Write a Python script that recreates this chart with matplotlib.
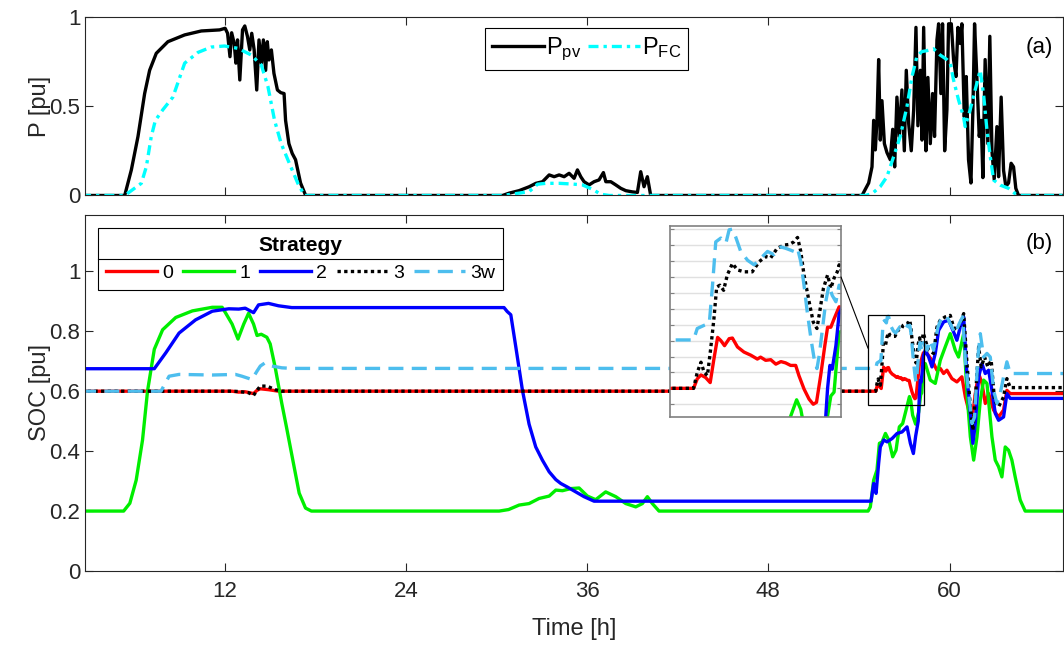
import matplotlib
matplotlib.use("Agg")
import matplotlib.pyplot as plt
from matplotlib.patches import Rectangle, ConnectionPatch
from matplotlib.lines import Line2D

plt.rcParams['font.family'] = ['Liberation Sans', 'DejaVu Sans']
plt.rcParams['mathtext.fontset'] = 'custom'
plt.rcParams['mathtext.rm'] = 'Liberation Sans'

# ---- data: (hour, value) ----
p_pv = [(2.5, 0), (5.39, 0), (5.83, 0.143), (6.27, 0.33), (6.71, 0.57), (7.04, 0.70), (7.48, 0.795),
        (8.25, 0.86), (9.36, 0.898), (10.46, 0.92), (11.67, 0.926), (12.04, 0.935), (12.2, 0.907),
        (12.36, 0.776), (12.47, 0.91), (12.64, 0.85), (12.75, 0.74), (12.86, 0.87), (13.01, 0.646),
        (13.19, 0.926), (13.34, 0.948), (13.52, 0.888), (13.67, 0.814), (13.8, 0.907), (13.96, 0.814),
        (14.13, 0.59), (14.28, 0.87), (14.44, 0.74), (14.57, 0.87), (14.72, 0.70), (14.83, 0.86),
        (14.94, 0.758), (15.1, 0.814), (15.27, 0.683), (15.5, 0.59), (15.72, 0.575), (15.94, 0.57),
        (16.04, 0.42), (16.26, 0.29), (16.48, 0.235), (16.7, 0.2), (17.03, 0.07), (17.37, 0),
        (30.4, 0), (30.84, 0.013), (31.5, 0.027), (32.17, 0.049), (32.61, 0.068), (33.05, 0.077),
        (33.49, 0.115), (33.82, 0.105), (34.15, 0.115), (34.48, 0.105), (34.81, 0.124), (35.14, 0.096),
        (35.36, 0.143), (35.58, 0.105), (35.8, 0.077), (36.13, 0.059), (36.46, 0.077), (36.79, 0.087),
        (37.08, 0.128), (37.24, 0.077), (37.57, 0.077), (37.9, 0.059), (38.23, 0.04), (38.56, 0.027),
        (39.0, 0.02), (39.33, 0.017), (39.55, 0.133), (39.77, 0.049), (39.99, 0.105), (40.21, 0),
        (54.2, 0), (54.64, 0.07), (54.86, 0.16), (54.97, 0.42), (55.08, 0.255), (55.19, 0.42),
        (55.3, 0.76), (55.41, 0.31), (55.52, 0.53), (55.68, 0.29), (55.85, 0.24), (56.07, 0.20),
        (56.23, 0.37), (56.36, 0.16), (56.51, 0.55), (56.67, 0.33), (56.84, 0.59), (57.0, 0.25),
        (57.13, 0.70), (57.29, 0.40), (57.46, 0.25), (57.62, 0.48), (57.77, 0.94), (57.9, 0.39),
        (58.06, 0.70), (58.17, 0.31), (58.28, 0.94), (58.43, 0.25), (58.56, 0.66), (58.72, 0.29),
        (58.87, 0.57), (59.0, 0.33), (59.16, 0.87), (59.27, 0.96), (59.42, 0.57), (59.53, 0.96),
        (59.67, 0.25), (59.82, 0.48), (59.93, 0.96), (60.11, 0.96), (60.26, 0.76), (60.42, 0.665),
        (60.55, 0.94), (60.7, 0.85), (60.81, 0.96), (60.97, 0.44), (61.1, 0.665), (61.25, 0.20),
        (61.41, 0.07), (61.54, 0.48), (61.65, 0.96), (61.8, 0.665), (61.96, 0.33), (62.09, 0.42),
        (62.2, 0.10), (62.35, 0.76), (62.53, 0.29), (62.66, 0.89), (62.8, 0.25), (62.95, 0.09),
        (63.13, 0.385), (63.24, 0.105), (63.41, 0.55), (63.57, 0.14), (63.72, 0.05), (63.9, 0.07),
        (64.07, 0.18), (64.23, 0.16), (64.38, 0.04), (64.56, 0), (68, 0)]

p_fc = [(2.5, 0), (5.39, 0), (6.49, 0.068), (6.82, 0.16), (7.15, 0.33), (7.42, 0.42), (7.92, 0.48),
        (8.58, 0.55), (9.36, 0.74), (10.24, 0.80), (11.12, 0.83), (12.0, 0.836), (12.88, 0.823),
        (13.76, 0.786), (14.43, 0.73), (14.87, 0.61), (15.31, 0.42), (15.75, 0.29), (16.19, 0.2),
        (16.85, 0.068), (17.29, 0), (30.4, 0), (31.5, 0.013), (32.17, 0.022), (32.72, 0.063),
        (33.27, 0.068), (34.15, 0.068), (35.03, 0.064), (35.69, 0.059), (36.35, 0.035), (36.9, 0.007),
        (37.46, 0), (54.42, 0), (54.86, 0.01), (55.41, 0.05), (55.85, 0.105), (56.29, 0.217),
        (56.73, 0.33), (57.18, 0.50), (57.51, 0.665), (57.84, 0.78), (58.17, 0.805), (58.5, 0.81),
        (58.94, 0.82), (59.38, 0.785), (59.82, 0.76), (60.04, 0.74), (60.26, 0.645), (60.59, 0.534),
        (60.92, 0.44), (61.03, 0.385), (61.36, 0.48), (61.69, 0.59), (62.02, 0.70), (62.24, 0.57),
        (62.47, 0.366), (62.69, 0.217), (62.91, 0.086), (63.35, 0.058), (63.9, 0.04), (64.34, 0.01),
        (64.67, 0), (68, 0)]

soc_0 = [(2.5, 0.6), (12.5, 0.6), (12.94, 0.597), (13.37, 0.598), (13.92, 0.592), (14.15, 0.603),
         (14.37, 0.608), (14.92, 0.605), (15.57, 0.6), (55.11, 0.6), (55.19, 0.615), (55.27, 0.621),
         (55.37, 0.617), (55.47, 0.609), (55.55, 0.646), (55.63, 0.68), (55.7, 0.675), (55.78, 0.667),
         (55.88, 0.678), (55.95, 0.679), (56.06, 0.665), (56.2, 0.657), (56.35, 0.652), (56.49, 0.646),
         (56.56, 0.649), (56.67, 0.644), (56.78, 0.645), (56.89, 0.638), (57.0, 0.642), (57.1, 0.64),
         (57.21, 0.636), (57.32, 0.636), (57.39, 0.62), (57.5, 0.599), (57.61, 0.583), (57.7, 0.575),
         (57.77, 0.578), (57.86, 0.62), (57.95, 0.667), (58.01, 0.696), (58.08, 0.696), (58.15, 0.709),
         (58.26, 0.728), (58.5, 0.726), (58.83, 0.703), (59.16, 0.67), (59.38, 0.676), (59.6, 0.659),
         (59.82, 0.67), (60.15, 0.642), (60.48, 0.631), (60.81, 0.648), (61.04, 0.581), (61.26, 0.537),
         (61.48, 0.503), (61.7, 0.592), (61.92, 0.659), (62.14, 0.626), (62.36, 0.559), (62.58, 0.592),
         (62.91, 0.537), (63.24, 0.514), (63.57, 0.537), (63.79, 0.603), (64.01, 0.592), (68, 0.592)]

soc_1 = [(2.5, 0.2), (5.32, 0.2), (5.73, 0.226), (6.15, 0.303), (6.57, 0.437), (6.9, 0.6), (7.35, 0.74),
         (7.9, 0.805), (8.77, 0.846), (9.87, 0.868), (11.19, 0.88), (11.84, 0.88), (12.07, 0.861),
         (12.5, 0.824), (12.89, 0.774), (13.27, 0.824), (13.59, 0.86), (13.92, 0.824), (14.15, 0.786),
         (14.43, 0.79), (14.8, 0.78), (15.02, 0.758), (15.35, 0.68), (15.79, 0.559), (16.1, 0.48),
         (16.52, 0.37), (16.94, 0.26), (17.36, 0.21), (17.75, 0.2), (30.18, 0.2), (30.8, 0.205),
         (31.5, 0.22), (32.16, 0.225), (32.82, 0.242), (33.49, 0.25), (33.93, 0.27), (34.37, 0.268),
         (34.92, 0.275), (35.47, 0.277), (36.02, 0.25), (36.57, 0.238), (37.23, 0.264), (37.9, 0.248),
         (38.56, 0.225), (39.22, 0.214), (39.66, 0.225), (39.99, 0.248), (40.32, 0.225), (40.76, 0.2),
         (54.6, 0.2), (54.75, 0.214), (54.97, 0.303), (55.19, 0.337), (55.35, 0.426), (55.53, 0.431),
         (55.75, 0.459), (55.97, 0.437), (56.23, 0.381), (56.45, 0.403), (56.67, 0.481), (56.89, 0.492),
         (57.18, 0.55), (57.34, 0.582), (57.43, 0.567), (57.55, 0.52), (57.75, 0.49), (57.95, 0.53),
         (58.08, 0.588), (58.15, 0.594), (58.26, 0.688), (58.39, 0.692), (58.72, 0.637), (59.05, 0.626),
         (59.38, 0.703), (59.71, 0.748), (60.04, 0.792), (60.37, 0.737), (60.59, 0.714), (60.93, 0.792),
         (61.15, 0.592), (61.37, 0.448), (61.59, 0.37), (61.81, 0.448), (62.03, 0.57), (62.25, 0.637),
         (62.47, 0.626), (62.8, 0.448), (63.02, 0.37), (63.24, 0.348), (63.46, 0.314), (63.68, 0.414),
         (63.9, 0.403), (64.12, 0.37), (64.34, 0.314), (64.67, 0.237), (65.0, 0.2), (68, 0.2)]

soc_2 = [(2.5, 0.675), (7.35, 0.675), (8.11, 0.728), (8.99, 0.794), (10.08, 0.838), (11.19, 0.867),
         (12.28, 0.875), (12.94, 0.874), (13.37, 0.877), (13.92, 0.862), (14.25, 0.888), (14.91, 0.893),
         (15.57, 0.885), (16.45, 0.879), (30.5, 0.879), (30.71, 0.866), (30.95, 0.855), (31.28, 0.748),
         (31.72, 0.603), (32.16, 0.49), (32.6, 0.414), (33.04, 0.37), (33.49, 0.331), (33.93, 0.305),
         (34.26, 0.292), (34.7, 0.28), (35.25, 0.264), (35.8, 0.248), (36.46, 0.233), (54.8, 0.233),
         (54.97, 0.292), (55.13, 0.259), (55.3, 0.359), (55.41, 0.414), (55.64, 0.437), (55.86, 0.431),
         (56.19, 0.442), (56.52, 0.459), (56.85, 0.464), (57.18, 0.481), (57.4, 0.426), (57.6, 0.392),
         (57.75, 0.45), (57.92, 0.5), (58.01, 0.6), (58.06, 0.636), (58.11, 0.63), (58.19, 0.667),
         (58.26, 0.717), (58.39, 0.737), (58.61, 0.714), (58.83, 0.681), (59.05, 0.726), (59.27, 0.803),
         (59.6, 0.831), (59.93, 0.837), (60.26, 0.798), (60.48, 0.77), (60.7, 0.814), (60.93, 0.848),
         (61.15, 0.648), (61.37, 0.526), (61.54, 0.426), (61.7, 0.492), (61.92, 0.648), (62.14, 0.692),
         (62.36, 0.659), (62.58, 0.67), (62.8, 0.603), (63.02, 0.526), (63.24, 0.503), (63.57, 0.514),
         (63.79, 0.592), (64.01, 0.576), (68, 0.576)]

soc_3 = [(2.5, 0.6), (12.5, 0.6), (12.94, 0.599), (13.59, 0.595), (13.92, 0.586), (14.15, 0.603),
         (14.37, 0.617), (14.81, 0.617), (15.35, 0.605), (15.79, 0.6), (55.11, 0.6), (55.19, 0.625),
         (55.27, 0.641), (55.34, 0.625), (55.41, 0.62), (55.48, 0.662), (55.55, 0.709), (55.61, 0.759),
         (55.68, 0.762), (55.76, 0.754), (55.84, 0.778), (55.95, 0.796), (56.06, 0.786), (56.2, 0.783),
         (56.38, 0.783), (56.53, 0.799), (56.67, 0.807), (56.78, 0.805), (56.92, 0.82), (57.07, 0.825),
         (57.18, 0.826), (57.28, 0.83), (57.36, 0.837), (57.43, 0.815), (57.5, 0.778), (57.61, 0.736),
         (57.7, 0.704), (57.78, 0.694), (57.85, 0.725), (57.92, 0.757), (58.01, 0.778), (58.08, 0.757),
         (58.15, 0.773), (58.22, 0.783), (58.26, 0.794), (58.39, 0.77), (58.61, 0.737), (58.94, 0.726),
         (59.16, 0.814), (59.38, 0.837), (59.71, 0.848), (60.04, 0.853), (60.26, 0.814), (60.48, 0.803),
         (60.7, 0.826), (60.93, 0.859), (61.15, 0.692), (61.37, 0.548), (61.54, 0.47), (61.74, 0.603),
         (61.92, 0.748), (62.09, 0.681), (62.31, 0.714), (62.53, 0.681), (62.75, 0.703), (62.97, 0.57),
         (63.24, 0.548), (63.57, 0.581), (63.79, 0.642), (64.01, 0.612), (68, 0.612)]

soc_3w = [(2.5, 0.6), (7.79, 0.6), (8.33, 0.65), (8.99, 0.656), (11.19, 0.654), (12.72, 0.656),
          (13.15, 0.65), (13.81, 0.639), (14.15, 0.667), (14.37, 0.684), (14.69, 0.695), (15.13, 0.684),
          (15.79, 0.678), (16.5, 0.676), (55.11, 0.676), (55.19, 0.694), (55.34, 0.699), (55.45, 0.702),
          (55.52, 0.762), (55.59, 0.83), (55.7, 0.836), (55.81, 0.828), (55.88, 0.849), (55.95, 0.85),
          (56.02, 0.838), (56.13, 0.815), (56.28, 0.801), (56.42, 0.794), (56.56, 0.804), (56.71, 0.815),
          (56.85, 0.81), (57.0, 0.822), (57.1, 0.82), (57.21, 0.817), (57.28, 0.815), (57.36, 0.82),
          (57.43, 0.799), (57.5, 0.762), (57.57, 0.72), (57.65, 0.678), (57.72, 0.646), (57.78, 0.631),
          (57.83, 0.652), (57.9, 0.694), (57.97, 0.736), (58.04, 0.762), (58.11, 0.746), (58.19, 0.736),
          (58.26, 0.762), (58.5, 0.737), (58.72, 0.77), (58.94, 0.737), (59.23, 0.814), (59.49, 0.848),
          (59.82, 0.848), (60.15, 0.814), (60.37, 0.792), (60.64, 0.826), (60.86, 0.848), (61.04, 0.703),
          (61.26, 0.592), (61.48, 0.492), (61.65, 0.514), (61.87, 0.714), (62.03, 0.792), (62.25, 0.714),
          (62.47, 0.726), (62.69, 0.714), (62.91, 0.603), (63.13, 0.559), (63.35, 0.592), (63.57, 0.648),
          (63.79, 0.698), (64.01, 0.659), (68, 0.659)]

strategy_labels = ['0', '1', '2', '3', '3w']
x_ticks = [12, 24, 36, 48, 60]
zoom_t = [54.6, 58.3]
zoom_soc = [0.555, 0.855]

# ---- styling ----
AX_COL = '#262626'
styles = [dict(color='#FF0000', ls='-'),
          dict(color='#00EE00', ls='-'),
          dict(color='#0000FF', ls='-'),
          dict(color='black', ls=(0, (1, 1))),
          dict(color='#4DBEEE', ls=(0, (4.5, 2.5)))]
LW = 2.4


def style_axes(ax):
    for s in ax.spines.values():
        s.set_color(AX_COL)
        s.set_linewidth(0.8)
    ax.tick_params(direction='in', length=6, width=0.8, colors=AX_COL,
                   labelsize=16, top=True, right=True)


fig = plt.figure(figsize=(10.64, 6.46), dpi=100)
ax1 = fig.add_axes([0.080, 0.6974, 0.919, 0.2768])
ax2 = fig.add_axes([0.080, 0.1161, 0.919, 0.5511])

# top panel
t, v = zip(*p_pv)
ax1.plot(t, v, color='black', lw=LW, label=r'$\mathregular{P_{pv}}$')
t, v = zip(*p_fc)
ax1.plot(t, v, color='#00FFFF', lw=LW, ls=(0, (3, 1.5, 1, 1.5)), label=r'$\mathregular{P_{FC}}$')
ax1.set_xlim(2.77, 67.5)
ax1.set_ylim(0, 1)
ax1.set_xticks(x_ticks)
ax1.set_xticklabels([])
ax1.set_yticks([0, 0.5, 1])
ax1.set_yticklabels(['0', '0.5', '1'])
ax1.set_ylabel('P [pu]', fontsize=17, color=AX_COL, labelpad=-1)
style_axes(ax1)
leg1 = ax1.legend(loc='upper left', bbox_to_anchor=(0.409, 0.937), borderaxespad=0, ncol=2,
                  fontsize=17, handlelength=2.2, handletextpad=0.1, columnspacing=0.25,
                  fancybox=False, edgecolor='black', framealpha=1, borderpad=0.3)
leg1.get_frame().set_linewidth(0.8)
ax1.text(0.99, 0.83, '(a)', transform=ax1.transAxes, ha='right', va='center', fontsize=16)

# bottom panel
series = [soc_0, soc_1, soc_2, soc_3, soc_3w]
for data, lab, st in zip(series, strategy_labels, styles):
    t, v = zip(*data)
    ax2.plot(t, v, lw=LW, label=lab, **st)
ax2.set_xlim(2.77, 67.5)
ax2.set_ylim(0, 1.188)
ax2.set_xticks(x_ticks)
ax2.set_yticks([0, 0.2, 0.4, 0.6, 0.8, 1.0])
ax2.set_yticklabels(['0', '0.2', '0.4', '0.6', '0.8', '1'])
ax2.tick_params(axis='x', pad=7)
ax2.set_xlabel('Time [h]', fontsize=17, color=AX_COL, labelpad=12)
ax2.set_ylabel('SOC [pu]', fontsize=17, color=AX_COL, labelpad=-1)
style_axes(ax2)
leg2 = ax2.legend(loc='upper left', bbox_to_anchor=(0.0133, 0.9635), borderaxespad=0, ncol=5,
                  fontsize=14, title='Strategy', title_fontproperties={'weight': 'bold', 'size': 15},
                  handlelength=2.65, handletextpad=0.25, columnspacing=0.5,
                  fancybox=False, edgecolor='black', framealpha=1, borderpad=0.4)
leg2.get_frame().set_linewidth(0.8)
ax2.text(0.99, 0.92, '(b)', transform=ax2.transAxes, ha='right', va='center', fontsize=16)

# zoom rectangle and inset
ax2.add_patch(Rectangle((zoom_t[0], zoom_soc[0]), zoom_t[1] - zoom_t[0], zoom_soc[1] - zoom_soc[0],
                        fill=False, lw=0.9, ec='black', zorder=5))
axin = fig.add_axes([0.6297, 0.3545, 0.1607, 0.2957])
for data, st in zip(series, styles):
    t, v = zip(*data)
    axin.plot(t, v, lw=LW, **st)
axin.set_xlim(zoom_t)
axin.set_ylim(zoom_soc)
axin.set_xticks([])
axin.set_yticks([0.575 + 0.025 * i for i in range(12)])
axin.set_yticklabels([])
axin.grid(axis='y', color='#e0e0e0', lw=1.0)
axin.set_axisbelow(True)
axin.tick_params(direction='in', length=3, width=0.8, colors='#808080', right=True)
for s in axin.spines.values():
    s.set_color('#808080')
    s.set_linewidth(1.2)

con = ConnectionPatch(xyA=(1.0, 0.733), coordsA=axin.transAxes,
                      xyB=(zoom_t[0], 0.743), coordsB=ax2.transData, color='black', lw=0.8)
fig.add_artist(con)

# separator line under legend title (MATLAB style)
fig.canvas.draw()
lb = leg2.get_window_extent()
tb = leg2.get_title().get_window_extent()
ysep = (tb.y0 - 4) / fig.bbox.height
fig.add_artist(Line2D([lb.x0 / fig.bbox.width, lb.x1 / fig.bbox.width], [ysep, ysep],
                      color='black', lw=0.8))

fig.savefig('out.png', dpi=100)
